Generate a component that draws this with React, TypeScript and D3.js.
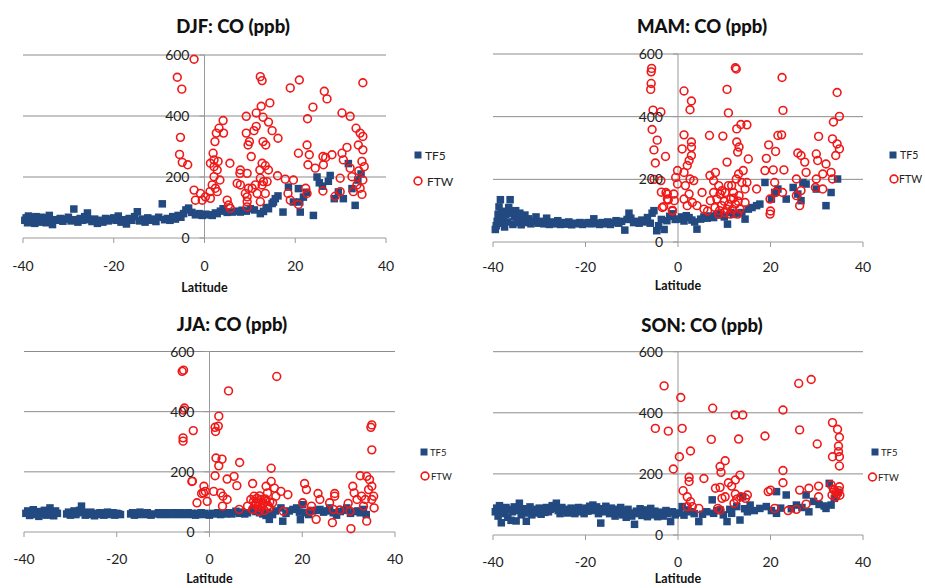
import React from 'react';
import * as d3 from 'd3';

// ---------- data ----------
const xTicks = [-40, -20, 0, 20, 40];
const yTicks = [0, 200, 400, 600];
const gridValues = [200, 400, 600];
const seriesNames = ['TF5', 'FTW'];
const panelTitles = ['DJF: CO (ppb)', 'MAM: CO (ppb)', 'JJA: CO (ppb)', 'SON: CO (ppb)'];
const xAxisTitle = 'Latitude';

type Pt = [number, number];

const djfTF5: Pt[] = [
  [-39.6,58],[-39.3,66],[-39,50],[-38.8,72],[-38.5,60],[-38.2,53],[-38,68],[-37.7,62],[-37.4,48],[-37.1,70],[-36.8,57],[-36.5,64],[-36.2,52],[-35.9,68],[-35.5,58],[-35.2,62],[-34.9,50],[-34.6,66],[-34.2,74],[-33.9,56],[-33.5,44],[-33.2,60],[-32.5,58],[-31.8,64],[-31.2,55],[-30.6,62],[-30,68],[-29.4,56],[-28.8,95],[-28.4,60],[-27.9,52],[-27.4,64],[-26.9,58],[-26.4,70],[-25.8,82],[-25.3,60],[-24.8,54],[-24.2,62],[-23.6,48],[-23,58],[-22.4,52],[-21.8,64],[-21.2,56],[-20.6,62],[-20,66],[-19.5,58],[-19,72],[-18.4,52],[-17.8,60],[-17.2,46],[-16.6,64],[-16,58],[-15.4,70],[-14.8,86],[-14.3,56],[-13.7,62],[-13.1,52],[-12.5,66],[-11.9,58],[-11.3,62],[-10.7,54],[-10.1,68],[-9.3,112],[-8.8,60],[-8.2,64],[-7.6,58],[-7,70],[-6.4,62],[-5.8,74],[-5.2,68],[-4.6,80],[-4.1,92],[-3.5,98],[-2.8,84],[-2,76],[-1.2,80],[-0.5,74],
  [0.3,78],[1,76],[1.7,74],[2.4,82],[2.8,80],[3.5,88],[4.1,96],[5,84],[6.1,85],[7,88],[7.9,85],[8.3,91],[9.2,88],[10.1,96],[11,92],[12.3,80],[13,87],[13.6,100],[14.1,96],[14.9,113],[15.2,118],[15.6,129],[16.2,138],[17.3,85],[18.5,167],[19.6,118],[20.7,162],[21,118],[21.1,85],[21.8,134],[22.5,150],[24,74],[24.8,200],[25.3,181],[26,170],[27.3,186],[27.7,205],[28.6,129],[29.5,151],[30.6,129],[31.7,244],[32.5,162],[33.2,107],[33.8,190],[34.5,210]
];
const djfFTW: Pt[] = [
  [-6,527],[-5,488],[-2.3,586],[-5.3,330],[-5.5,274],[-4.9,248],[-3.7,240],
  [12.3,529],[12.7,516],[18.9,492],[20.9,518],[34.9,509],[26.4,481],[27,456],[23.9,429],[22.7,391],[30.3,410],[32.1,399],
  [14.4,443],[12.5,432],[11.4,410],[9.2,399],[12.9,396],[14.1,380],[14.9,352],[16.2,327],[4.1,385],[2.6,344],[4.2,344],[2.3,316],[1.9,278],[2.1,256],[3,251],[1.3,245],[5.6,245],[9.2,344],[9.9,316],[9.6,305],[10.3,267],[11.4,366],[10.9,352],[12.9,316],[13.5,305],[12.7,245],[13.4,237],[14.1,223],[12.2,223],[7.9,223],[7.8,212],[7.2,179],[7.9,174],[9.4,212],[9.7,163],[9,146],[9.4,119],[9.4,102],[12.3,196],[13.8,185],[12.7,174],[11.6,146],[13.4,146],[12.3,119],[16.1,204],[17.8,193],[19.6,190],[18.4,146],[18.9,124],[20.7,110],[22.3,163],[22.6,146],[20.7,278],[22.6,305],[23.1,273],[22.8,240],[24.4,229],[26.1,267],[26.7,264],[28.1,273],[26.2,240],[26.1,154],[28.8,137],[30.3,278],[31.4,297],[29.9,196],[29.9,152],[30.6,256],[33.4,360],[34.3,344],[34.9,333],[34.9,289],[34.7,251],[34,220],[34.9,190],[34.3,163],[32.8,152],[34.7,143],[32.5,201],[32.1,229],[-2.3,157],[-2,124],[-0.9,146],[-0.5,124],[0.2,135],[1.2,152],[1.7,174],[2.1,201],[2.8,223],[3.4,190],[2.4,163],[2.8,152],[1.3,130],[5,124],[5.7,97],[5.3,108],[10.5,163],[9.4,135],[13,185],[11.2,174],[2.1,234],[3.2,360],[33.9,305],[35.2,234],[33.6,174]
];

const mamTF5: Pt[] = [
  [-39.5,40],[-39.3,52],[-39.1,66],[-38.9,88],[-38.7,112],[-38.4,135],[-38.2,98],[-38,60],[-37.8,75],[-37.5,48],[-37.2,88],[-36.9,64],[-36.6,110],[-36.3,135],[-36,92],[-35.7,56],[-35.4,80],[-35.1,100],[-34.8,62],[-34.5,76],[-34.2,92],[-33.9,55],[-33.5,70],[-33.1,86],[-32.7,62],[-32.3,74],[-31.8,58],[-31.3,66],[-30.7,80],[-30.2,60],[-29.6,66],[-29,58],[-28.4,76],[-27.8,56],[-27.2,64],[-26.6,58],[-26,68],[-25.4,56],[-24.8,62],[-24.2,57],[-23.6,64],[-23,55],[-22.4,60],[-21.8,58],[-21.2,62],[-20.6,56],[-20,60],[-19.4,62],[-18.8,58],[-18.2,74],[-17.6,60],[-17,56],[-16.4,62],[-15.8,58],[-15.2,64],[-14.6,56],[-14,62],[-13.4,68],[-12.8,60],[-12.2,66],[-11.5,38],[-11,72],[-10.6,92],[-10.2,76],[-9.6,62],[-9,66],[-8.4,60],[-7.8,70],[-7.2,64],[-6.6,78],[-6,60],[-5.6,92],[-5.2,100],[-4.6,36],[-4.2,52],[-3.6,72],[-3,40],[-2.4,68],[-1.8,82],[-1.2,90],[-0.6,72],
  [0.2,73],[0.8,80],[1.3,67],[1.8,84],[2.4,78],[3,70],[3.6,64],[4.1,41],[4.9,73],[5.6,80],[6.3,76],[7,83],[7.7,78],[8.4,89],[9.2,86],[10,80],[10.7,57],[11.3,94],[12,88],[12.8,92],[13.8,94],[14.5,73],[15.2,105],[16,110],[17,116],[17.7,121],[18.8,190],[20.2,137],[20.9,158],[21.6,169],[23.4,137],[24.9,174],[25.9,153],[26.6,132],[27,190],[27.7,185],[29.9,169],[32,116],[33.1,158],[34.5,201]
];
const mamFTW: Pt[] = [
  [-5.7,554],[-5.8,543],[-5.8,506],[-5.9,487],[-5.4,421],[-3.7,415],[-5.6,359],[-4.5,325],[-5.2,294],[-4.9,252],[-2.7,273],[-5.2,200],[-3.7,196],[-3.6,159],[-2.3,153],[-2.1,134],[-3.1,113],[-0.8,132],[-1.2,101],
  [12.4,556],[12.6,552],[22.5,525],[34.4,477],[1.3,482],[2.9,450],[2.6,422],[10.6,487],[10.9,412],[22.7,420],[34.9,401],[33.6,383],[13.6,375],[14.9,374],[12.7,361],[6.8,340],[9.7,338],[1.3,342],[2.9,319],[2.9,303],[0.9,297],[2.9,276],[2.4,260],[12.7,319],[13.2,303],[12.9,287],[15.2,265],[10.6,255],[21.6,340],[22.4,342],[19.6,310],[21.1,289],[19.1,267],[22.9,230],[25.9,284],[26.6,276],[27.4,255],[27.7,222],[30.4,337],[29.9,281],[30.2,260],[32,249],[33.4,329],[34.4,313],[34.9,297],[34.1,276],[33.1,222],[31.3,217],[33.4,201],[29.9,201],[29.7,174],[31.3,169],[25.6,201],[26.6,164],[25.6,148],[26.3,116],[20.6,230],[18.8,228],[20.9,190],[21.1,158],[19.9,137],[20,99],[19.9,89],[22.6,158],[17,169],[-0.1,228],[-0.5,206],[-0.1,185],[1.3,222],[2,244],[2.6,201],[3.4,196],[1.6,180],[2.4,153],[3.1,126],[1.3,137],[2,116],[-0.9,153],[-2.3,137],[-3.4,110],[-1.2,99],[-2.6,158],[5.2,158],[6.9,212],[8.1,222],[7.7,196],[8.8,180],[9.5,164],[7.7,158],[7,132],[8.4,137],[9.4,116],[10.1,94],[8.8,89],[10.6,105],[11.4,137],[12,158],[11.6,180],[12.6,201],[13.1,217],[14.1,228],[13.8,190],[14.5,169],[13.2,148],[12.4,121],[13.4,105],[14.5,126],[11.3,89],[12.9,89],[14.9,190],[5.6,105],[4.1,116],[10.2,158],[10.9,180],[9.1,153],[6.4,99],[8,110],[9,100],[11,120],[12,140],[13,130],[10,130],[11.8,104]
];

const jjaTF5: Pt[] = [
  [-39.6,62],[-39.2,70],[-38.8,55],[-38.4,66],[-38,74],[-37.6,58],[-37.2,64],[-36.8,52],[-36.4,68],[-36,60],[-35.6,72],[-35.2,56],[-34.8,66],[-34.4,80],[-34,60],[-33.6,54],[-33.2,70],[-32.8,62],
  [-30.8,60],[-30.4,66],[-30,56],[-29.6,62],[-29.2,70],[-28.8,58],[-28.4,64],[-28,72],[-27.6,86],[-27.2,66],[-26.8,56],[-26.4,62],[-26,58],[-25.6,66],[-25.2,60],[-24.8,54],[-24.4,62],[-24,58],[-23.6,64],[-23.2,60],[-22.8,56],[-22.4,62],[-22,66],[-21.6,58],[-21.2,60],[-20.8,64],[-20.4,56],[-20,62],[-19.6,60],[-19.2,58],
  [-17,60],[-16.6,64],[-16.2,56],[-15.8,62],[-15.4,58],[-15,66],[-14.6,60],[-14.2,62],[-13.8,58],[-13.4,64],[-13,60],[-12.6,56],
  [-11.4,60],[-11,64],[-10.6,58],[-10.2,62],[-9.8,60],[-9.4,64],[-9,58],[-8.6,62],[-8.2,60],[-7.8,64],[-7.4,58],[-7,62],[-6.6,60],[-6.2,64],[-5.8,58],[-5.4,62],[-5,60],[-4.6,64],[-4.2,58],[-3.8,62],[-3.4,60],[-3,56],[-2.6,62],[-2.2,60],[-1.8,64],[-1.4,58],[-1,62],
  [0,56],[0.6,62],[1.2,60],[1.8,64],[2.4,58],[3,62],[3.6,60],[4.2,64],[4.8,60],[5.7,69],[6.4,62],[7,66],[7.6,60],[8.2,64],[9.3,75],[10,68],[10.8,64],[11.5,60],[12.2,55],[12.5,64],[12.9,42],[13.6,58],[14.2,70],[15.4,80],[15.8,36],[16.5,62],[17.2,70],[18,75],[18.8,80],[19.4,66],[19.6,41],[20.1,91],[20.8,64],[21.4,58],[22.2,70],[23,72],[23.8,75],[24.6,66],[25.2,70],[25.9,80],[26.7,64],[27.4,56],[28.2,68],[29,72],[29.6,80],[30.4,62],[31.2,68],[32,70],[32.5,64],[33.2,75],[33.8,58]
];
const jjaFTW: Pt[] = [
  [-5.9,534],[-5.6,538],[-5.4,412],[-5.6,405],[-3.5,337],[-5.7,313],[-5.7,302],[-3.7,169],[-2.7,97],[-1.3,130],
  [14.5,517],[4.1,469],[2,385],[1.2,348],[1.9,352],[1.3,334],[1.4,246],[2.7,242],[2,220],[6.5,231],[1.2,187],[3.8,176],[5.3,185],[5.9,154],[13.3,212],[-3.8,168],[-1.2,152],[-0.9,135],[-1.7,128],[-0.5,102],[0.9,135],[2.4,130],[2.9,119],[3.8,108],[2.8,86],[6.4,75],[9.3,161],[8.2,86],[8.9,108],[9.6,119],[10,97],[10.4,86],[11.1,108],[11.4,91],[9.3,75],[10.7,69],[12.2,102],[12.5,130],[12.2,152],[13.3,168],[14,146],[14.3,119],[15.4,135],[13.6,97],[15.9,69],[16.9,124],[12.9,80],[20.5,161],[20.9,141],[20.1,97],[22,86],[21.7,69],[23,42],[23.4,128],[23.8,108],[25.9,97],[26.5,31],[27,128],[27,119],[26.7,75],[28.1,73],[29.9,95],[30.3,69],[30.5,11],[30.9,152],[32.5,187],[31.2,130],[31.8,108],[32.8,119],[33.2,86],[33.9,36],[33.9,185],[34.5,174],[35,152],[34.3,141],[35,356],[34.8,348],[35,273],[35.4,119],[35.5,80],[35,108],[33.6,108],
  [9.8,90],[10.5,100],[11,80],[11.6,95],[12,110],[12.6,88],[11.8,72],[10.2,112],[13,100],[9.5,102],[10.8,120]
];

const sonTF5: Pt[] = [
  [-39.5,76],[-39.2,88],[-38.9,62],[-38.6,96],[-38.2,40],[-37.9,80],[-37.5,70],[-37.2,90],[-36.8,58],[-36.5,84],[-36.1,48],[-35.8,76],[-35.4,92],[-35,46],[-34.7,80],[-34.3,104],[-33.9,66],[-33.5,86],[-33.1,72],[-32.8,45],[-32.4,80],[-32,92],[-31.6,66],[-31.2,78],[-30.8,84],[-30.4,72],[-30,88],[-29.6,68],[-29.2,80],[-28.8,74],[-28.4,90],[-28,76],[-27.6,84],[-27.2,96],[-26.8,88],[-26.3,104],[-25.9,80],[-25.5,70],[-25.1,90],[-24.7,78],[-24.3,84],[-23.9,72],[-23.5,80],[-23.1,88],[-22.7,76],[-22.3,70],[-21.9,82],[-21.5,90],[-21.1,76],[-20.7,84],[-20.3,70],[-19.9,88],[-19.5,78],[-19.1,94],[-18.7,84],[-18.4,98],[-18,80],[-17.6,92],[-17.2,70],[-16.7,39],[-16.4,86],[-16,76],[-15.6,94],[-15.2,82],[-14.8,70],[-14.4,88],[-14,76],[-13.6,62],[-13.2,84],[-12.8,72],[-12.4,90],[-12,66],[-11.6,80],[-11.2,58],[-10.8,84],[-10.4,72],[-10,62],[-9.4,35],[-9,78],[-8.6,70],[-8.2,86],[-7.8,64],[-7.4,76],[-7,82],[-6.6,60],[-6.2,72],[-5.9,87],[-5.4,66],[-5,78],[-4.4,60],[-4,74],[-3.6,74],[-3.2,62],[-2.6,80],[-2.2,70],[-1.6,44],[-1.2,76],[-0.6,66],
  [0.3,72],[0.9,93],[1.3,65],[2,82],[2.7,76],[3.5,70],[4.5,44],[5.3,68],[6.2,76],[7.4,115],[7.7,71],[8.4,80],[9.1,82],[9.8,66],[10.6,44],[11.2,84],[11.6,71],[12.7,93],[13.4,49],[14,125],[14.4,86],[15,76],[15.6,98],[16.5,80],[17.7,87],[19.1,93],[20.2,80],[21.3,142],[21.3,71],[22.2,88],[23.4,131],[24.5,86],[25.6,98],[26.8,90],[27.7,131],[28.3,76],[29.3,110],[30.5,100],[31.6,95],[32,87],[32.7,169],[33.1,98],[33.8,120],[34.6,140]
];
const sonFTW: Pt[] = [
  [-3,488],[-4.9,349],[-2.1,340],[-1,216],[0.3,256],[0.6,450],[0.9,349],
  [7.5,415],[12.4,393],[14,393],[22.7,409],[26.1,496],[28.8,509],[26.3,344],[30.1,298],[18.8,324],[7.2,313],[13.1,314],[2.7,275],[10.2,243],[9.1,224],[9.3,205],[2.4,189],[2.4,175],[5.6,185],[13.4,196],[12.4,180],[11.6,160],[10.9,171],[8.1,153],[9.1,156],[10.2,125],[9.5,120],[8.6,87],[9.1,82],[12.4,134],[12.7,117],[12.1,104],[13.6,125],[15,131],[14.6,120],[1.1,145],[2,125],[2.7,109],[3.1,93],[4.5,87],[2,93],[22.7,211],[22.7,171],[19.5,142],[20,147],[20.9,87],[23.8,80],[25.6,84],[27.7,101],[26.3,147],[28.3,153],[30.4,160],[30.4,125],[33.4,368],[34.5,346],[34.9,320],[34.7,291],[34.7,273],[34.9,256],[34.9,226],[33.4,256],[33.1,164],[33.8,147],[34.5,136],[34.1,125],[33.3,131],[34.9,158],[34.2,140],[35,130],[33.6,150],[34.8,145]
];

// ---------- layout ----------
type Layout = {
  x0: number; x1: number; y0: number; y1: number;
  titleX: number; titleY: number; tickY: number; labelY: number;
  sqX: number; sqY: number; t1X: number; t1Y: number;
  cX: number; cY: number; t2X: number; t2Y: number; legFs: number;
};

const layouts: Layout[] = [
  { x0: 23, x1: 386, y0: 238, y1: 55, titleX: 233, titleY: 33, tickY: 271, labelY: 292,
    sqX: 418, sqY: 155, t1X: 425, t1Y: 160, cX: 418, cY: 181, t2X: 427, t2Y: 186, legFs: 12 },
  { x0: 493, x1: 863, y0: 242, y1: 54, titleX: 702, titleY: 33, tickY: 272, labelY: 290,
    sqX: 893, sqY: 155, t1X: 900, t1Y: 159, cX: 894, cY: 179, t2X: 899, t2Y: 183, legFs: 10.5 },
  { x0: 24, x1: 395, y0: 532, y1: 351.5, titleX: 232, titleY: 331, tickY: 564, labelY: 583,
    sqX: 424, sqY: 452, t1X: 430, t1Y: 456, cX: 425, cY: 476, t2X: 431, t2Y: 480, legFs: 9.5 },
  { x0: 493, x1: 863, y0: 535, y1: 351.7, titleX: 702, titleY: 332, tickY: 567, labelY: 583,
    sqX: 875, sqY: 452, t1X: 881, t1Y: 456, cX: 872.5, cY: 477, t2X: 878, t2Y: 481, legFs: 9.5 },
];

const panelData: [Pt[], Pt[]][] = [
  [djfTF5, djfFTW],
  [mamTF5, mamFTW],
  [jjaTF5, jjaFTW],
  [sonTF5, sonFTW],
];

const BLUE = '#234a80';
const RED = '#f01818';
const GRID = '#8c8c8c';
const FONT = 'Lato, "Open Sans", sans-serif';

function Panel({ title, tf5, ftw, L }: { title: string; tf5: Pt[]; ftw: Pt[]; L: Layout }) {
  const x = d3.scaleLinear().domain([-40, 40]).range([L.x0, L.x1]);
  const y = d3.scaleLinear().domain([0, 600]).range([L.y0, L.y1]);
  const sq = 7.5;
  const r = 3.9;
  return (
    <g>
      <text x={L.titleX} y={L.titleY} textAnchor="middle" fontFamily={FONT} fontWeight={900} fontSize={18.5} fill="#111">{title}</text>
      {gridValues.map(v => (
        <line key={'g' + v} x1={x(-40)} x2={x(40)} y1={y(v)} y2={y(v)} stroke={GRID} strokeWidth={1} />
      ))}
      <line x1={x(-40)} x2={x(40)} y1={y(0)} y2={y(0)} stroke="#9a9a9a" strokeWidth={1} />
      <line x1={x(0)} x2={x(0)} y1={y(0)} y2={y(600)} stroke="#9a9a9a" strokeWidth={1} />
      {xTicks.map(t => (
        <line key={'xt' + t} x1={x(t)} x2={x(t)} y1={y(0)} y2={y(0) + 5} stroke="#9a9a9a" strokeWidth={1} />
      ))}
      {yTicks.map(t => (
        <line key={'yt' + t} x1={x(0) - 5} x2={x(0)} y1={y(t)} y2={y(t)} stroke="#9a9a9a" strokeWidth={1} />
      ))}
      {tf5.map((d, i) => (
        <rect key={'s' + i} x={x(d[0]) - sq / 2} y={y(d[1]) - sq / 2} width={sq} height={sq} fill={BLUE} />
      ))}
      {ftw.map((d, i) => (
        <circle key={'c' + i} cx={x(d[0])} cy={y(d[1])} r={r} fill="none" stroke={RED} strokeWidth={1.6} />
      ))}
      {yTicks.map(t => (
        <text key={'yl' + t} x={x(0) - 15} y={y(t)} dy="0.36em" textAnchor="end" fontFamily={FONT} fontSize={14} fill="#222">{t}</text>
      ))}
      {xTicks.map(t => (
        <text key={'xl' + t} x={x(t)} y={L.tickY} textAnchor="middle" fontFamily={FONT} fontSize={14} fill="#222">{t}</text>
      ))}
      <text x={x(0)} y={L.labelY} textAnchor="middle" fontFamily={FONT} fontWeight={700} fontSize={12.5} fill="#111">{xAxisTitle}</text>
      <rect x={L.sqX - 3.5} y={L.sqY - 3.5} width={7} height={7} fill={BLUE} />
      <text x={L.t1X} y={L.t1Y} fontFamily={FONT} fontSize={L.legFs} fill="#222">{seriesNames[0]}</text>
      <circle cx={L.cX} cy={L.cY} r={r} fill="none" stroke={RED} strokeWidth={1.6} />
      <text x={L.t2X} y={L.t2Y} fontFamily={FONT} fontSize={L.legFs} fill="#222">{seriesNames[1]}</text>
    </g>
  );
}

export default function App() {
  return (
    <svg width={925} height={588} style={{ position: 'absolute', left: 0, top: 0, background: '#fff' }}>
      <rect x={0} y={0} width={925} height={588} fill="#fff" />
      {panelData.map((pd, i) => (
        <Panel key={i} title={panelTitles[i]} tf5={pd[0]} ftw={pd[1]} L={layouts[i]} />
      ))}
    </svg>
  );
}
